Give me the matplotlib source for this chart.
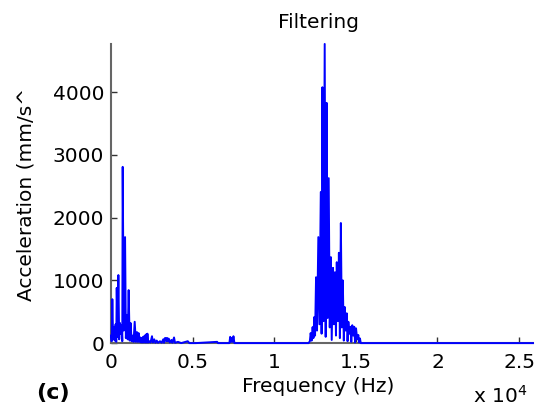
import matplotlib
matplotlib.use("Agg")
import matplotlib.pyplot as plt

plt.rcParams['font.family'] = ['DejaVu Sans']

# spectrum points (Hz, mm/s^2)
freq = [0, 40, 80, 130, 180, 230, 280, 320, 350, 400, 450, 500, 550, 600, 650, 690,
        715, 780, 860, 910, 960, 1020, 1080, 1140, 1200, 1260, 1320, 1380, 1450, 1520,
        1590, 1640, 1690, 1740, 1800, 1840, 1880, 1920, 1960, 2010, 2060, 2110, 2160,
        2200, 2230, 2280, 2350, 2420, 2510, 2560, 2650, 2720, 2800, 2880, 3000, 3100,
        3200, 3250, 3300, 3340, 3380, 3420, 3460, 3500, 3540, 3600, 3700, 3760, 3860,
        3920, 4100, 4300, 4700, 4800, 5200, 6500, 6550, 7250, 7300, 7350, 7400, 7450,
        7500, 7560,
        12100, 12180, 12230, 12290, 12350, 12400, 12450, 12500, 12560, 12620, 12700,
        12770, 12850, 12900, 12950, 13020, 13090, 13150, 13210, 13270, 13335, 13400,
        13470, 13520, 13600, 13650, 13720, 13780, 13830, 13900, 13960, 14020, 14080,
        14140, 14200, 14260, 14320, 14380, 14440, 14490, 14540, 14600, 14660, 14720,
        14780, 14840, 14900, 14950, 15010, 15080, 15150, 15200, 15250, 15300, 25850]
amp = [120, 30, 700, 60, 250, 40, 300, 20, 880, 100, 1085, 60, 320, 150, 280, 30,
       2810, 200, 1690, 80, 450, 60, 845, 40, 320, 30, 120, 20, 340, 20,
       175, 20, 160, 20, 90, 10, 80, 10, 100, 10, 120, 10, 140,
       10, 150, 10, 30, 10, 110, 10, 60, 5, 40, 5, 30, 5,
       60, 5, 80, 40, 80, 30, 80, 30, 70, 10, 50, 5, 90,
       5, 20, 0, 30, 0, 0, 20, 0, 0, 100, 20, 80, 20,
       110, 0,
       0, 30, 160, 40, 255, 80, 415, 120, 1050, 200, 1690,
       300, 2410, 150, 4080, 350, 4770, 100, 3830, 400, 2630, 250,
       1370, 50, 1200, 300, 1130, 120, 1290, 350, 1440, 80, 1915,
       250, 1000, 40, 575, 200, 475, 30, 340, 150, 260, 20,
       285, 120, 260, 10, 235, 60, 130, 10, 75, 0, 0]

xticks = [0, 5000, 10000, 15000, 20000, 25000]
xticklabels = ['0', '0.5', '1', '1.5', '2', '2.5']
yticks = [0, 1000, 2000, 3000, 4000]

fig = plt.figure(figsize=(5.48, 4.07), dpi=100)
ax = fig.add_axes([0.2026, 0.157, 0.770, 0.735])

ax.plot(freq, amp, color='#0000ff', lw=1.4, clip_on=False, zorder=3)
ax.set_xlim(0, 25850)
ax.set_ylim(0, max(amp))

ax.set_xticks(xticks)
ax.set_xticklabels(xticklabels)
ax.set_yticks(yticks)
ax.tick_params(direction='in', length=4, width=1, colors='#333333',
               labelcolor='black', labelsize=14.5)
ax.tick_params(axis='x', pad=7)
ax.tick_params(axis='y', pad=5)

for s in ['top', 'right']:
    ax.spines[s].set_visible(False)
for s in ['left', 'bottom']:
    ax.spines[s].set_color('#666666')
    ax.spines[s].set_linewidth(1.5)

fig.text(318/548, 1 - 23/407, 'Filtering', ha='center', va='center', fontsize=14.5)
fig.text(318/548, 1 - 387/407, 'Frequency (Hz)', ha='center', va='center', fontsize=14.5)
fig.text(26/548, 1 - 194/407, 'Acceleration (mm/s^', ha='center', va='center',
         rotation=90, fontsize=14.5)
fig.text(500/548, 1 - 396/407, r'x 10$^{4}$', ha='center', va='center', fontsize=14.5)
fig.text(53/548, 1 - 393/407, '(c)', ha='center', va='center', fontsize=16,
         fontweight='bold')

fig.savefig('out.png', dpi=100)
